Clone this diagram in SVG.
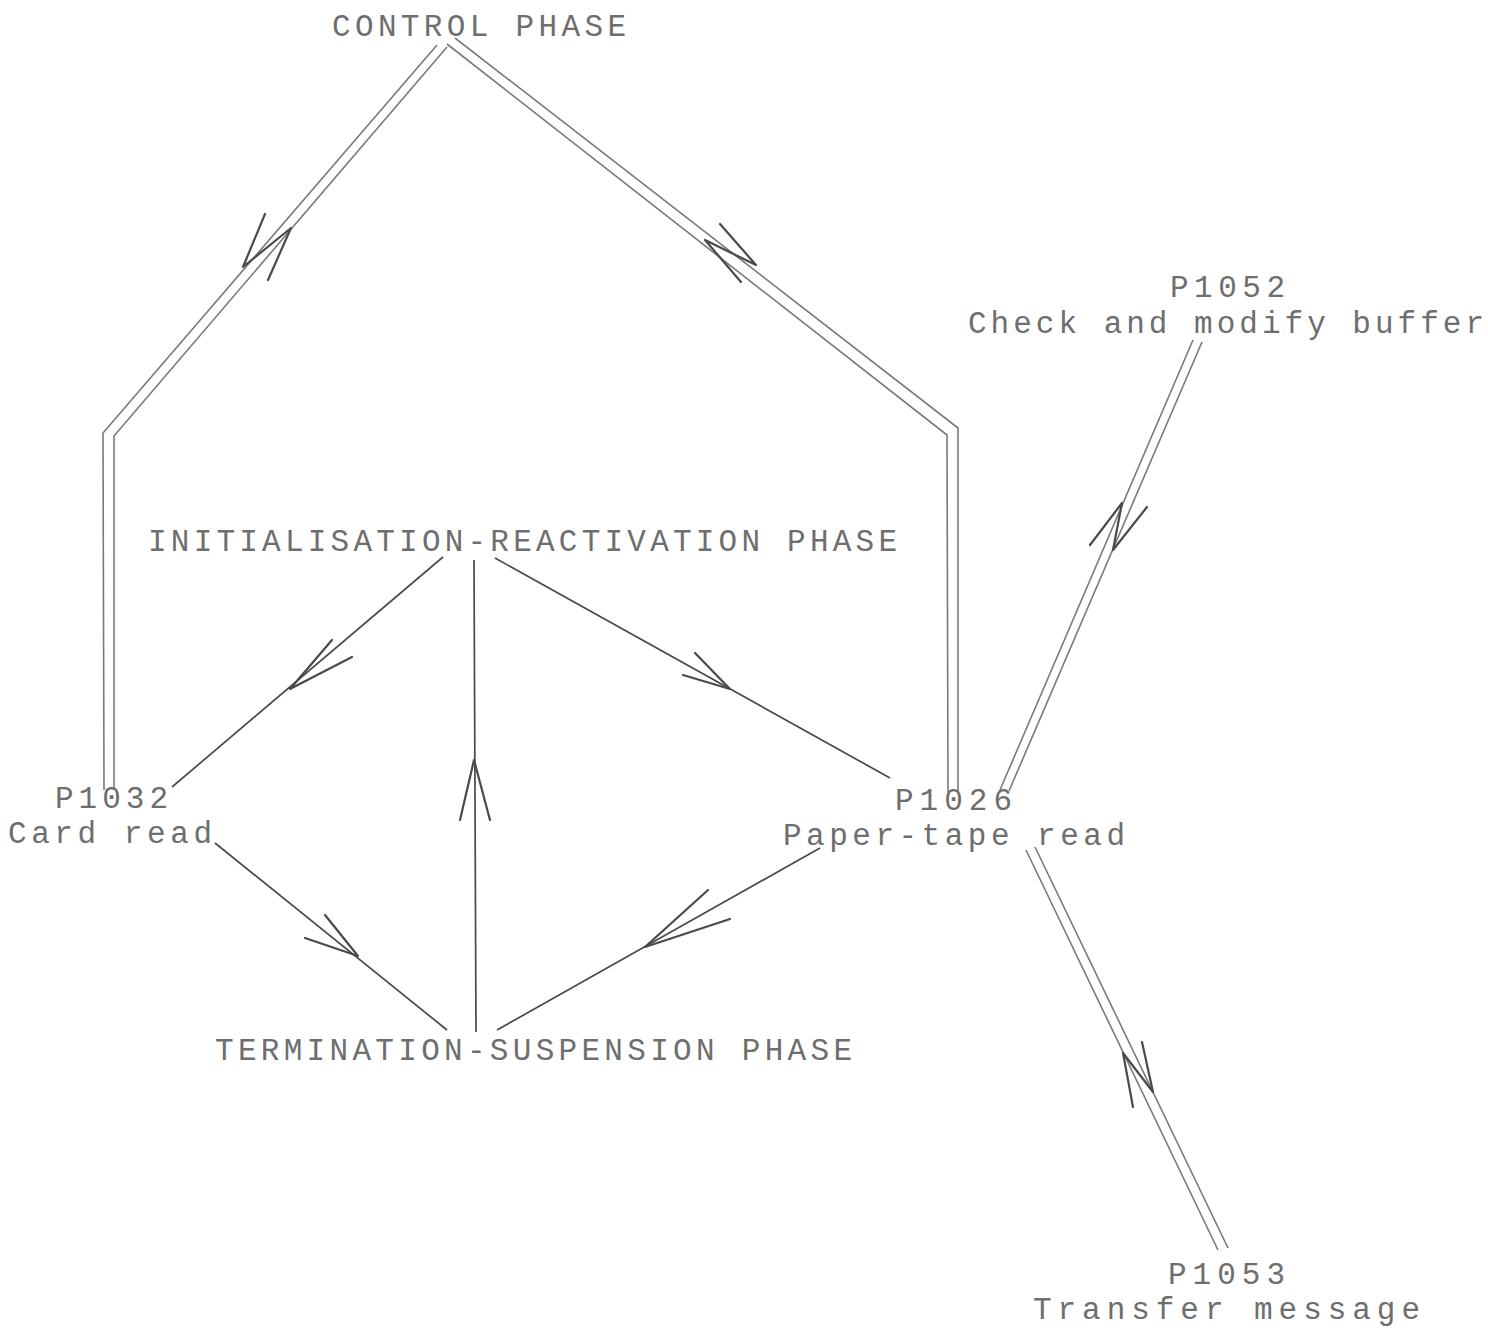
<svg xmlns="http://www.w3.org/2000/svg" width="1488" height="1330" viewBox="0 0 1488 1330">
<style>
.t{font-family:"Liberation Mono","DejaVu Sans Mono",monospace;font-size:31px;fill:#6e6e6e}
.dl{fill:none;stroke:#7a7a72;stroke-width:1.6}
.sl{fill:none;stroke:#4a4a4a;stroke-width:1.7}
.ah{fill:none;stroke:#4a4a4a;stroke-width:2.2;stroke-linejoin:round;stroke-linecap:round}
</style>
<rect width="1488" height="1330" fill="#fff"/>
<g id="connectors">
  <polyline class="dl" points="437,45 103,433 104,790"/>
  <polyline class="dl" points="447,47 114,436 114,790"/>
  <polyline class="ah" points="265,214 243,267 291,228 268,280"/>
  <polyline class="dl" points="455,38 958,428 958,792"/>
  <polyline class="dl" points="447,44 947,435 948,792"/>
  <polyline class="ah" points="720,224 756,265 705,240 741,282"/>
  <line class="dl" x1="1000" y1="790" x2="1193" y2="340"/>
  <line class="dl" x1="1009" y1="791" x2="1202" y2="342"/>
  <polyline class="ah" points="1090,545 1122,503 1113,550 1147,507"/>
  <line class="dl" x1="1026" y1="850" x2="1218" y2="1250"/>
  <line class="dl" x1="1035" y1="847" x2="1228" y2="1248"/>
  <polyline class="ah" points="1133,1107 1123,1053 1153,1092 1142,1042"/>
  <line class="sl" x1="443" y1="557" x2="172" y2="787"/>
  <polyline class="ah" points="332,640 290,689 352,657"/>
  <line class="sl" x1="495" y1="558" x2="890" y2="778"/>
  <polyline class="ah" points="695,653 730,689 683,675"/>
  <line class="sl" x1="474" y1="560" x2="476" y2="1032"/>
  <polyline class="ah" points="460,820 474,760 490,820"/>
  <line class="sl" x1="215" y1="843" x2="447" y2="1030"/>
  <polyline class="ah" points="325,915 358,956 305,938"/>
  <line class="sl" x1="820" y1="848" x2="497" y2="1030"/>
  <polyline class="ah" points="708,890 645,947 730,919"/>
</g>
<g id="control"><text class="t" x="332" y="36" textLength="294" lengthAdjust="spacing">CONTROL PHASE</text></g>
<g id="p1052"><text class="t" x="1170" y="297" textLength="115" lengthAdjust="spacing">P1052</text><text class="t" x="968" y="333" textLength="516" lengthAdjust="spacing">Check and modify buffer</text></g>
<g id="init"><text class="t" x="148" y="551" textLength="749" lengthAdjust="spacing">INITIALISATION-REACTIVATION PHASE</text></g>
<g id="p1032"><text class="t" x="55" y="808" textLength="113" lengthAdjust="spacing">P1032</text><text class="t" x="8" y="843" textLength="204" lengthAdjust="spacing">Card read</text></g>
<g id="p1026"><text class="t" x="895" y="810" textLength="117" lengthAdjust="spacing">P1026</text><text class="t" x="783" y="845" textLength="342" lengthAdjust="spacing">Paper-tape read</text></g>
<g id="term"><text class="t" x="215" y="1060" textLength="637" lengthAdjust="spacing">TERMINATION-SUSPENSION PHASE</text></g>
<g id="p1053"><text class="t" x="1168" y="1284" textLength="117" lengthAdjust="spacing">P1053</text><text class="t" x="1033" y="1319" textLength="387" lengthAdjust="spacing">Transfer message</text></g>
</svg>
